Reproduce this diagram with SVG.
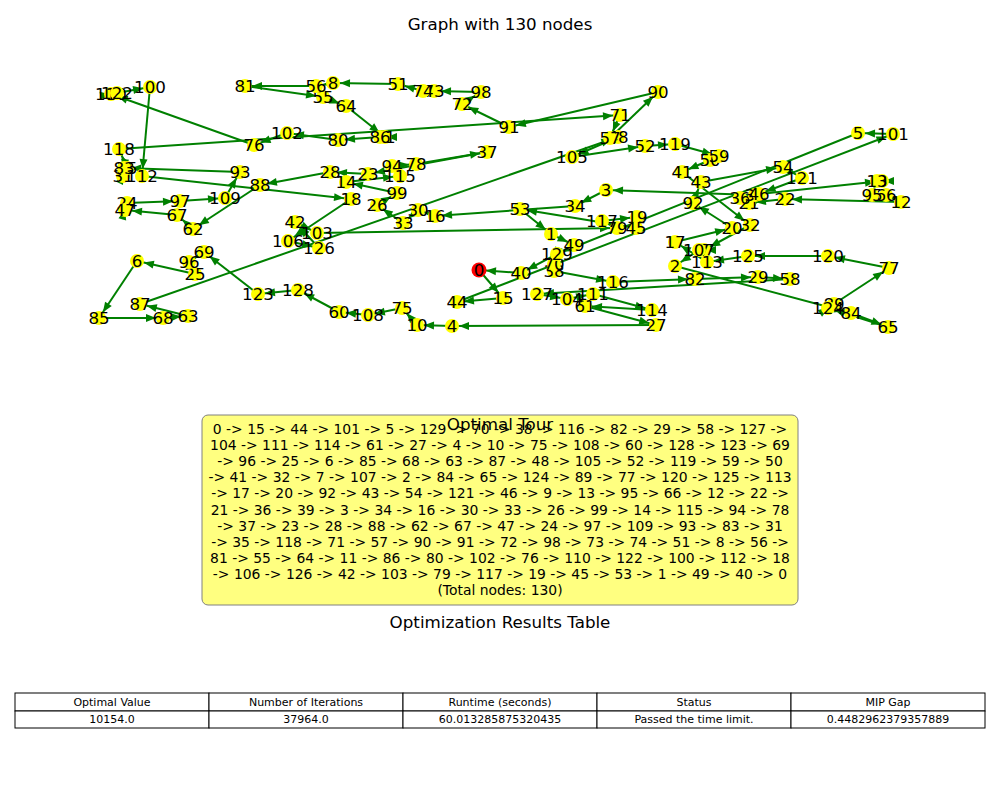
<svg xmlns="http://www.w3.org/2000/svg" width="1000" height="800" viewBox="0 0 1000 800">
<style>
text{font-family:"DejaVu Sans","Liberation Sans",sans-serif;fill:#000}
.t{font-size:16.7px;text-anchor:middle}
.nd circle{fill:#ffff00}
.nd text{font-size:16.7px;text-anchor:middle}
#edges line{stroke:#008000;stroke-width:2;marker-end:url(#ah)}
.bx{font-size:13.9px;text-anchor:middle}
.tb{font-size:11px;text-anchor:middle}
.cell{fill:#fff;stroke:#000;stroke-width:1}
</style>
<defs>
<marker id="ah" markerUnits="userSpaceOnUse" markerWidth="20" markerHeight="10" refX="17" refY="4" orient="auto" overflow="visible">
<path d="M0,0 L10,4 L0,8 z" fill="#008000"/>
</marker>
</defs>
<rect width="1000" height="800" fill="#fff"/>
<text class="t" x="500" y="30">Graph with 130 nodes</text>
<g id="edges">
<line x1="479" y1="270" x2="503" y2="298"/>
<line x1="503" y1="298" x2="457" y2="302"/>
<line x1="457" y1="302" x2="893" y2="134"/>
<line x1="893" y1="134" x2="858" y2="133"/>
<line x1="858" y1="133" x2="557" y2="254"/>
<line x1="557" y1="254" x2="554" y2="264"/>
<line x1="554" y1="264" x2="554" y2="271"/>
<line x1="554" y1="271" x2="613" y2="282"/>
<line x1="613" y1="282" x2="695" y2="279"/>
<line x1="695" y1="279" x2="758" y2="277"/>
<line x1="758" y1="277" x2="790" y2="279"/>
<line x1="790" y1="279" x2="537" y2="294"/>
<line x1="537" y1="294" x2="567" y2="299"/>
<line x1="567" y1="299" x2="593" y2="294"/>
<line x1="593" y1="294" x2="652" y2="310"/>
<line x1="652" y1="310" x2="585" y2="306"/>
<line x1="585" y1="306" x2="656" y2="325"/>
<line x1="656" y1="325" x2="452" y2="326"/>
<line x1="452" y1="326" x2="417" y2="325"/>
<line x1="417" y1="325" x2="402" y2="308"/>
<line x1="402" y1="308" x2="368" y2="315"/>
<line x1="368" y1="315" x2="339" y2="312"/>
<line x1="339" y1="312" x2="298" y2="290"/>
<line x1="298" y1="290" x2="258" y2="294"/>
<line x1="258" y1="294" x2="204" y2="252"/>
<line x1="204" y1="252" x2="189" y2="262"/>
<line x1="189" y1="262" x2="195" y2="274"/>
<line x1="195" y1="274" x2="137" y2="261"/>
<line x1="137" y1="261" x2="99" y2="318"/>
<line x1="99" y1="318" x2="163" y2="318"/>
<line x1="163" y1="318" x2="188" y2="316"/>
<line x1="188" y1="316" x2="140" y2="304"/>
<line x1="140" y1="304" x2="618" y2="137"/>
<line x1="618" y1="137" x2="572" y2="157"/>
<line x1="572" y1="157" x2="645" y2="146"/>
<line x1="645" y1="146" x2="675" y2="144"/>
<line x1="675" y1="144" x2="719" y2="156"/>
<line x1="719" y1="156" x2="710" y2="160"/>
<line x1="710" y1="160" x2="682" y2="172"/>
<line x1="682" y1="172" x2="750" y2="225"/>
<line x1="750" y1="225" x2="704" y2="250"/>
<line x1="704" y1="250" x2="699" y2="250"/>
<line x1="699" y1="250" x2="675" y2="266"/>
<line x1="675" y1="266" x2="851" y2="313"/>
<line x1="851" y1="313" x2="888" y2="327"/>
<line x1="888" y1="327" x2="828" y2="308"/>
<line x1="828" y1="308" x2="834" y2="304"/>
<line x1="834" y1="304" x2="889" y2="268"/>
<line x1="889" y1="268" x2="828" y2="256"/>
<line x1="828" y1="256" x2="748" y2="256"/>
<line x1="748" y1="256" x2="707" y2="262"/>
<line x1="707" y1="262" x2="675" y2="242"/>
<line x1="675" y1="242" x2="732" y2="228"/>
<line x1="732" y1="228" x2="693" y2="203"/>
<line x1="693" y1="203" x2="701" y2="182"/>
<line x1="701" y1="182" x2="783" y2="167"/>
<line x1="783" y1="167" x2="802" y2="178"/>
<line x1="802" y1="178" x2="759" y2="194"/>
<line x1="759" y1="194" x2="882" y2="181"/>
<line x1="882" y1="181" x2="877" y2="181"/>
<line x1="877" y1="181" x2="872" y2="195"/>
<line x1="872" y1="195" x2="886" y2="195"/>
<line x1="886" y1="195" x2="901" y2="202"/>
<line x1="901" y1="202" x2="785" y2="199"/>
<line x1="785" y1="199" x2="749" y2="203"/>
<line x1="749" y1="203" x2="740" y2="198"/>
<line x1="740" y1="198" x2="755" y2="195"/>
<line x1="755" y1="195" x2="606" y2="190"/>
<line x1="606" y1="190" x2="575" y2="206"/>
<line x1="575" y1="206" x2="435" y2="216"/>
<line x1="435" y1="216" x2="418" y2="210"/>
<line x1="418" y1="210" x2="403" y2="223"/>
<line x1="403" y1="223" x2="377" y2="205"/>
<line x1="377" y1="205" x2="397" y2="193"/>
<line x1="397" y1="193" x2="346" y2="182"/>
<line x1="346" y1="182" x2="400" y2="176"/>
<line x1="400" y1="176" x2="392" y2="166"/>
<line x1="392" y1="166" x2="416" y2="164"/>
<line x1="416" y1="164" x2="487" y2="152"/>
<line x1="487" y1="152" x2="368" y2="174"/>
<line x1="368" y1="174" x2="330" y2="172"/>
<line x1="330" y1="172" x2="260" y2="185"/>
<line x1="260" y1="185" x2="193" y2="229"/>
<line x1="193" y1="229" x2="177" y2="215"/>
<line x1="177" y1="215" x2="125" y2="210"/>
<line x1="125" y1="210" x2="127" y2="203"/>
<line x1="127" y1="203" x2="180" y2="201"/>
<line x1="180" y1="201" x2="225" y2="198"/>
<line x1="225" y1="198" x2="240" y2="172"/>
<line x1="240" y1="172" x2="124" y2="168"/>
<line x1="124" y1="168" x2="123" y2="176"/>
<line x1="123" y1="176" x2="127" y2="168"/>
<line x1="127" y1="168" x2="119" y2="149"/>
<line x1="119" y1="149" x2="620" y2="115"/>
<line x1="620" y1="115" x2="610" y2="138"/>
<line x1="610" y1="138" x2="658" y2="92"/>
<line x1="658" y1="92" x2="509" y2="127"/>
<line x1="509" y1="127" x2="462" y2="104"/>
<line x1="462" y1="104" x2="481" y2="92"/>
<line x1="481" y1="92" x2="434" y2="91"/>
<line x1="434" y1="91" x2="423" y2="91"/>
<line x1="423" y1="91" x2="398" y2="84"/>
<line x1="398" y1="84" x2="333" y2="83"/>
<line x1="333" y1="83" x2="316" y2="86"/>
<line x1="316" y1="86" x2="245" y2="86"/>
<line x1="245" y1="86" x2="323" y2="97"/>
<line x1="323" y1="97" x2="346" y2="106"/>
<line x1="346" y1="106" x2="385" y2="137"/>
<line x1="385" y1="137" x2="380" y2="137"/>
<line x1="380" y1="137" x2="338" y2="140"/>
<line x1="338" y1="140" x2="287" y2="133"/>
<line x1="287" y1="133" x2="254" y2="145"/>
<line x1="254" y1="145" x2="111" y2="94"/>
<line x1="111" y1="94" x2="117" y2="93"/>
<line x1="117" y1="93" x2="150" y2="87"/>
<line x1="150" y1="87" x2="142" y2="176"/>
<line x1="142" y1="176" x2="351" y2="199"/>
<line x1="351" y1="199" x2="288" y2="241"/>
<line x1="288" y1="241" x2="319" y2="248"/>
<line x1="319" y1="248" x2="295" y2="222"/>
<line x1="295" y1="222" x2="317" y2="233"/>
<line x1="317" y1="233" x2="617" y2="228"/>
<line x1="617" y1="228" x2="602" y2="221"/>
<line x1="602" y1="221" x2="637" y2="217"/>
<line x1="637" y1="217" x2="636" y2="228"/>
<line x1="636" y1="228" x2="520" y2="209"/>
<line x1="520" y1="209" x2="551" y2="234"/>
<line x1="551" y1="234" x2="574" y2="245"/>
<line x1="574" y1="245" x2="521" y2="273"/>
<line x1="521" y1="273" x2="479" y2="270"/>
</g>
<g id="nodes" class="nd">
<g id="node-0"><circle cx="479" cy="270" r="7.5" style="fill:#ff0000"/><text x="479" y="276">0</text></g>
<g id="node-1"><circle cx="551" cy="234" r="7"/><text x="551" y="240">1</text></g>
<g id="node-2"><circle cx="675" cy="266" r="7"/><text x="675" y="272">2</text></g>
<g id="node-3"><circle cx="606" cy="190" r="7"/><text x="606" y="196">3</text></g>
<g id="node-4"><circle cx="452" cy="326" r="7"/><text x="452" y="332">4</text></g>
<g id="node-5"><circle cx="858" cy="133" r="7"/><text x="858" y="139">5</text></g>
<g id="node-6"><circle cx="137" cy="261" r="7"/><text x="137" y="267">6</text></g>
<g id="node-7"><circle cx="704" cy="250" r="7"/><text x="704" y="256">7</text></g>
<g id="node-8"><circle cx="333" cy="83" r="7"/><text x="333" y="89">8</text></g>
<g id="node-9"><circle cx="882" cy="181" r="7"/><text x="882" y="187">9</text></g>
<g id="node-10"><circle cx="417" cy="325" r="7"/><text x="417" y="331">10</text></g>
<g id="node-11"><circle cx="385" cy="137" r="7"/><text x="385" y="143">11</text></g>
<g id="node-12"><circle cx="901" cy="202" r="7"/><text x="901" y="208">12</text></g>
<g id="node-13"><circle cx="877" cy="181" r="7"/><text x="877" y="187">13</text></g>
<g id="node-14"><circle cx="346" cy="182" r="7"/><text x="346" y="188">14</text></g>
<g id="node-15"><circle cx="503" cy="298" r="7"/><text x="503" y="304">15</text></g>
<g id="node-16"><circle cx="435" cy="216" r="7"/><text x="435" y="222">16</text></g>
<g id="node-17"><circle cx="675" cy="242" r="7"/><text x="675" y="248">17</text></g>
<g id="node-18"><circle cx="351" cy="199" r="7"/><text x="351" y="205">18</text></g>
<g id="node-19"><circle cx="637" cy="217" r="7"/><text x="637" y="223">19</text></g>
<g id="node-20"><circle cx="732" cy="228" r="7"/><text x="732" y="234">20</text></g>
<g id="node-21"><circle cx="749" cy="203" r="7"/><text x="749" y="209">21</text></g>
<g id="node-22"><circle cx="785" cy="199" r="7"/><text x="785" y="205">22</text></g>
<g id="node-23"><circle cx="368" cy="174" r="7"/><text x="368" y="180">23</text></g>
<g id="node-24"><circle cx="127" cy="203" r="7"/><text x="127" y="209">24</text></g>
<g id="node-25"><circle cx="195" cy="274" r="7"/><text x="195" y="280">25</text></g>
<g id="node-26"><circle cx="377" cy="205" r="7"/><text x="377" y="211">26</text></g>
<g id="node-27"><circle cx="656" cy="325" r="7"/><text x="656" y="331">27</text></g>
<g id="node-28"><circle cx="330" cy="172" r="7"/><text x="330" y="178">28</text></g>
<g id="node-29"><circle cx="758" cy="277" r="7"/><text x="758" y="283">29</text></g>
<g id="node-30"><circle cx="418" cy="210" r="7"/><text x="418" y="216">30</text></g>
<g id="node-31"><circle cx="123" cy="176" r="7"/><text x="123" y="182">31</text></g>
<g id="node-32"><circle cx="750" cy="225" r="7"/><text x="750" y="231">32</text></g>
<g id="node-33"><circle cx="403" cy="223" r="7"/><text x="403" y="229">33</text></g>
<g id="node-34"><circle cx="575" cy="206" r="7"/><text x="575" y="212">34</text></g>
<g id="node-35"><circle cx="127" cy="168" r="7"/><text x="127" y="174">35</text></g>
<g id="node-36"><circle cx="740" cy="198" r="7"/><text x="740" y="204">36</text></g>
<g id="node-37"><circle cx="487" cy="152" r="7"/><text x="487" y="158">37</text></g>
<g id="node-38"><circle cx="554" cy="271" r="7"/><text x="554" y="277">38</text></g>
<g id="node-39"><circle cx="755" cy="195" r="7"/><text x="755" y="201">39</text></g>
<g id="node-40"><circle cx="521" cy="273" r="7"/><text x="521" y="279">40</text></g>
<g id="node-41"><circle cx="682" cy="172" r="7"/><text x="682" y="178">41</text></g>
<g id="node-42"><circle cx="295" cy="222" r="7"/><text x="295" y="228">42</text></g>
<g id="node-43"><circle cx="701" cy="182" r="7"/><text x="701" y="188">43</text></g>
<g id="node-44"><circle cx="457" cy="302" r="7"/><text x="457" y="308">44</text></g>
<g id="node-45"><circle cx="636" cy="228" r="7"/><text x="636" y="234">45</text></g>
<g id="node-46"><circle cx="759" cy="194" r="7"/><text x="759" y="200">46</text></g>
<g id="node-47"><circle cx="125" cy="210" r="7"/><text x="125" y="216">47</text></g>
<g id="node-48"><circle cx="618" cy="137" r="7"/><text x="618" y="143">48</text></g>
<g id="node-49"><circle cx="574" cy="245" r="7"/><text x="574" y="251">49</text></g>
<g id="node-50"><circle cx="710" cy="160" r="7"/><text x="710" y="166">50</text></g>
<g id="node-51"><circle cx="398" cy="84" r="7"/><text x="398" y="90">51</text></g>
<g id="node-52"><circle cx="645" cy="146" r="7"/><text x="645" y="152">52</text></g>
<g id="node-53"><circle cx="520" cy="209" r="7"/><text x="520" y="215">53</text></g>
<g id="node-54"><circle cx="783" cy="167" r="7"/><text x="783" y="173">54</text></g>
<g id="node-55"><circle cx="323" cy="97" r="7"/><text x="323" y="103">55</text></g>
<g id="node-56"><circle cx="316" cy="86" r="7"/><text x="316" y="92">56</text></g>
<g id="node-57"><circle cx="610" cy="138" r="7"/><text x="610" y="144">57</text></g>
<g id="node-58"><circle cx="790" cy="279" r="7"/><text x="790" y="285">58</text></g>
<g id="node-59"><circle cx="719" cy="156" r="7"/><text x="719" y="162">59</text></g>
<g id="node-60"><circle cx="339" cy="312" r="7"/><text x="339" y="318">60</text></g>
<g id="node-61"><circle cx="585" cy="306" r="7"/><text x="585" y="312">61</text></g>
<g id="node-62"><circle cx="193" cy="229" r="7"/><text x="193" y="235">62</text></g>
<g id="node-63"><circle cx="188" cy="316" r="7"/><text x="188" y="322">63</text></g>
<g id="node-64"><circle cx="346" cy="106" r="7"/><text x="346" y="112">64</text></g>
<g id="node-65"><circle cx="888" cy="327" r="7"/><text x="888" y="333">65</text></g>
<g id="node-66"><circle cx="886" cy="195" r="7"/><text x="886" y="201">66</text></g>
<g id="node-67"><circle cx="177" cy="215" r="7"/><text x="177" y="221">67</text></g>
<g id="node-68"><circle cx="163" cy="318" r="7"/><text x="163" y="324">68</text></g>
<g id="node-69"><circle cx="204" cy="252" r="7"/><text x="204" y="258">69</text></g>
<g id="node-70"><circle cx="554" cy="264" r="7"/><text x="554" y="270">70</text></g>
<g id="node-71"><circle cx="620" cy="115" r="7"/><text x="620" y="121">71</text></g>
<g id="node-72"><circle cx="462" cy="104" r="7"/><text x="462" y="110">72</text></g>
<g id="node-73"><circle cx="434" cy="91" r="7"/><text x="434" y="97">73</text></g>
<g id="node-74"><circle cx="423" cy="91" r="7"/><text x="423" y="97">74</text></g>
<g id="node-75"><circle cx="402" cy="308" r="7"/><text x="402" y="314">75</text></g>
<g id="node-76"><circle cx="254" cy="145" r="7"/><text x="254" y="151">76</text></g>
<g id="node-77"><circle cx="889" cy="268" r="7"/><text x="889" y="274">77</text></g>
<g id="node-78"><circle cx="416" cy="164" r="7"/><text x="416" y="170">78</text></g>
<g id="node-79"><circle cx="617" cy="228" r="7"/><text x="617" y="234">79</text></g>
<g id="node-80"><circle cx="338" cy="140" r="7"/><text x="338" y="146">80</text></g>
<g id="node-81"><circle cx="245" cy="86" r="7"/><text x="245" y="92">81</text></g>
<g id="node-82"><circle cx="695" cy="279" r="7"/><text x="695" y="285">82</text></g>
<g id="node-83"><circle cx="124" cy="168" r="7"/><text x="124" y="174">83</text></g>
<g id="node-84"><circle cx="851" cy="313" r="7"/><text x="851" y="319">84</text></g>
<g id="node-85"><circle cx="99" cy="318" r="7"/><text x="99" y="324">85</text></g>
<g id="node-86"><circle cx="380" cy="137" r="7"/><text x="380" y="143">86</text></g>
<g id="node-87"><circle cx="140" cy="304" r="7"/><text x="140" y="310">87</text></g>
<g id="node-88"><circle cx="260" cy="185" r="7"/><text x="260" y="191">88</text></g>
<g id="node-89"><circle cx="834" cy="304" r="7"/><text x="834" y="310">89</text></g>
<g id="node-90"><circle cx="658" cy="92" r="7"/><text x="658" y="98">90</text></g>
<g id="node-91"><circle cx="509" cy="127" r="7"/><text x="509" y="133">91</text></g>
<g id="node-92"><circle cx="693" cy="203" r="7"/><text x="693" y="209">92</text></g>
<g id="node-93"><circle cx="240" cy="172" r="7"/><text x="240" y="178">93</text></g>
<g id="node-94"><circle cx="392" cy="166" r="7"/><text x="392" y="172">94</text></g>
<g id="node-95"><circle cx="872" cy="195" r="7"/><text x="872" y="201">95</text></g>
<g id="node-96"><circle cx="189" cy="262" r="7"/><text x="189" y="268">96</text></g>
<g id="node-97"><circle cx="180" cy="201" r="7"/><text x="180" y="207">97</text></g>
<g id="node-98"><circle cx="481" cy="92" r="7"/><text x="481" y="98">98</text></g>
<g id="node-99"><circle cx="397" cy="193" r="7"/><text x="397" y="199">99</text></g>
<g id="node-100"><circle cx="150" cy="87" r="7"/><text x="150" y="93">100</text></g>
<g id="node-101"><circle cx="893" cy="134" r="7"/><text x="893" y="140">101</text></g>
<g id="node-102"><circle cx="287" cy="133" r="7"/><text x="287" y="139">102</text></g>
<g id="node-103"><circle cx="317" cy="233" r="7"/><text x="317" y="239">103</text></g>
<g id="node-104"><circle cx="567" cy="299" r="7"/><text x="567" y="305">104</text></g>
<g id="node-105"><circle cx="572" cy="157" r="7"/><text x="572" y="163">105</text></g>
<g id="node-106"><circle cx="288" cy="241" r="7"/><text x="288" y="247">106</text></g>
<g id="node-107"><circle cx="699" cy="250" r="7"/><text x="699" y="256">107</text></g>
<g id="node-108"><circle cx="368" cy="315" r="7"/><text x="368" y="321">108</text></g>
<g id="node-109"><circle cx="225" cy="198" r="7"/><text x="225" y="204">109</text></g>
<g id="node-110"><circle cx="111" cy="94" r="7"/><text x="111" y="100">110</text></g>
<g id="node-111"><circle cx="593" cy="294" r="7"/><text x="593" y="300">111</text></g>
<g id="node-112"><circle cx="142" cy="176" r="7"/><text x="142" y="182">112</text></g>
<g id="node-113"><circle cx="707" cy="262" r="7"/><text x="707" y="268">113</text></g>
<g id="node-114"><circle cx="652" cy="310" r="7"/><text x="652" y="316">114</text></g>
<g id="node-115"><circle cx="400" cy="176" r="7"/><text x="400" y="182">115</text></g>
<g id="node-116"><circle cx="613" cy="282" r="7"/><text x="613" y="288">116</text></g>
<g id="node-117"><circle cx="602" cy="221" r="7"/><text x="602" y="227">117</text></g>
<g id="node-118"><circle cx="119" cy="149" r="7"/><text x="119" y="155">118</text></g>
<g id="node-119"><circle cx="675" cy="144" r="7"/><text x="675" y="150">119</text></g>
<g id="node-120"><circle cx="828" cy="256" r="7"/><text x="828" y="262">120</text></g>
<g id="node-121"><circle cx="802" cy="178" r="7"/><text x="802" y="184">121</text></g>
<g id="node-122"><circle cx="117" cy="93" r="7"/><text x="117" y="99">122</text></g>
<g id="node-123"><circle cx="258" cy="294" r="7"/><text x="258" y="300">123</text></g>
<g id="node-124"><circle cx="828" cy="308" r="7"/><text x="828" y="314">124</text></g>
<g id="node-125"><circle cx="748" cy="256" r="7"/><text x="748" y="262">125</text></g>
<g id="node-126"><circle cx="319" cy="248" r="7"/><text x="319" y="254">126</text></g>
<g id="node-127"><circle cx="537" cy="294" r="7"/><text x="537" y="300">127</text></g>
<g id="node-128"><circle cx="298" cy="290" r="7"/><text x="298" y="296">128</text></g>
<g id="node-129"><circle cx="557" cy="254" r="7"/><text x="557" y="260">129</text></g>
</g>
<g id="tour-box">
<rect x="202" y="415" width="596" height="190" rx="6" ry="6" fill="#ffff80" stroke="#808080" stroke-width="1"/>
<text class="bx" x="500" y="434">0 -&gt; 15 -&gt; 44 -&gt; 101 -&gt; 5 -&gt; 129 -&gt; 70 -&gt; 38 -&gt; 116 -&gt; 82 -&gt; 29 -&gt; 58 -&gt; 127 -&gt;</text>
<text class="bx" x="500" y="450">104 -&gt; 111 -&gt; 114 -&gt; 61 -&gt; 27 -&gt; 4 -&gt; 10 -&gt; 75 -&gt; 108 -&gt; 60 -&gt; 128 -&gt; 123 -&gt; 69</text>
<text class="bx" x="500" y="466">-&gt; 96 -&gt; 25 -&gt; 6 -&gt; 85 -&gt; 68 -&gt; 63 -&gt; 87 -&gt; 48 -&gt; 105 -&gt; 52 -&gt; 119 -&gt; 59 -&gt; 50</text>
<text class="bx" x="500" y="482">-&gt; 41 -&gt; 32 -&gt; 7 -&gt; 107 -&gt; 2 -&gt; 84 -&gt; 65 -&gt; 124 -&gt; 89 -&gt; 77 -&gt; 120 -&gt; 125 -&gt; 113</text>
<text class="bx" x="500" y="498">-&gt; 17 -&gt; 20 -&gt; 92 -&gt; 43 -&gt; 54 -&gt; 121 -&gt; 46 -&gt; 9 -&gt; 13 -&gt; 95 -&gt; 66 -&gt; 12 -&gt; 22 -&gt;</text>
<text class="bx" x="500" y="515">21 -&gt; 36 -&gt; 39 -&gt; 3 -&gt; 34 -&gt; 16 -&gt; 30 -&gt; 33 -&gt; 26 -&gt; 99 -&gt; 14 -&gt; 115 -&gt; 94 -&gt; 78</text>
<text class="bx" x="500" y="531">-&gt; 37 -&gt; 23 -&gt; 28 -&gt; 88 -&gt; 62 -&gt; 67 -&gt; 47 -&gt; 24 -&gt; 97 -&gt; 109 -&gt; 93 -&gt; 83 -&gt; 31</text>
<text class="bx" x="500" y="547">-&gt; 35 -&gt; 118 -&gt; 71 -&gt; 57 -&gt; 90 -&gt; 91 -&gt; 72 -&gt; 98 -&gt; 73 -&gt; 74 -&gt; 51 -&gt; 8 -&gt; 56 -&gt;</text>
<text class="bx" x="500" y="563">81 -&gt; 55 -&gt; 64 -&gt; 11 -&gt; 86 -&gt; 80 -&gt; 102 -&gt; 76 -&gt; 110 -&gt; 122 -&gt; 100 -&gt; 112 -&gt; 18</text>
<text class="bx" x="500" y="579">-&gt; 106 -&gt; 126 -&gt; 42 -&gt; 103 -&gt; 79 -&gt; 117 -&gt; 19 -&gt; 45 -&gt; 53 -&gt; 1 -&gt; 49 -&gt; 40 -&gt; 0</text>
<text class="bx" x="500" y="595">(Total nodes: 130)</text>
</g>
<text class="t" x="500" y="430">Optimal Tour</text>
<text class="t" x="500" y="628">Optimization Results Table</text>
<g id="results-table">
<rect class="cell" x="15" y="693" width="194" height="18"/>
<rect class="cell" x="209" y="693" width="194" height="18"/>
<rect class="cell" x="403" y="693" width="194" height="18"/>
<rect class="cell" x="597" y="693" width="194" height="18"/>
<rect class="cell" x="791" y="693" width="194" height="18"/>
<rect class="cell" x="15" y="711" width="194" height="17"/>
<rect class="cell" x="209" y="711" width="194" height="17"/>
<rect class="cell" x="403" y="711" width="194" height="17"/>
<rect class="cell" x="597" y="711" width="194" height="17"/>
<rect class="cell" x="791" y="711" width="194" height="17"/>
<text class="tb" x="112" y="706">Optimal Value</text>
<text class="tb" x="306" y="706">Number of Iterations</text>
<text class="tb" x="500" y="706">Runtime (seconds)</text>
<text class="tb" x="694" y="706">Status</text>
<text class="tb" x="888" y="706">MIP Gap</text>
<text class="tb" x="112" y="723">10154.0</text>
<text class="tb" x="306" y="723">37964.0</text>
<text class="tb" x="500" y="723">60.013285875320435</text>
<text class="tb" x="694" y="723">Passed the time limit.</text>
<text class="tb" x="888" y="723">0.4482962379357889</text>
</g>
</svg>
